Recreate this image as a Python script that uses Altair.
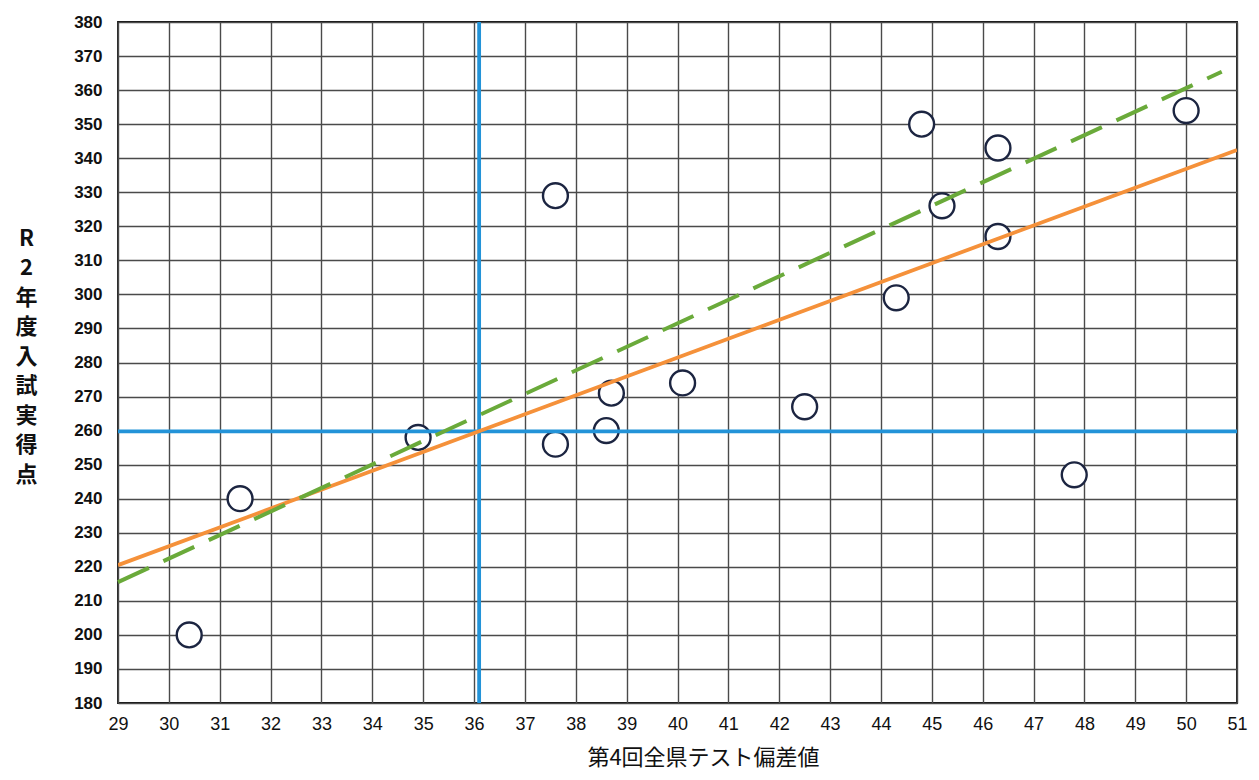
import altair as alt
import pandas as pd

# scatter points (x: 第4回全県テスト偏差値, y: R2年度入試実得点)
pt_x = [30.4, 31.4, 34.9, 37.6, 37.6, 38.6, 38.7, 40.1, 42.5, 44.3, 44.8, 45.2, 46.3, 46.3, 47.8, 50.0]
pt_y = [200.0, 240.0, 258.0, 329.0, 256.0, 260.0, 271.0, 274.0, 267.0, 299.0, 350.0, 326.0, 343.0, 317.0, 247.0, 354.0]

# trend lines
orange_x = [29, 51]
orange_y = [220.5, 342.4]
green_x = [29, 50.7]
green_y = [215.5, 365.4]

# blue reference lines
blue_v_x = 36.1
blue_h_y = 259.8

x_ticks = list(range(29, 52))
y_ticks = list(range(180, 381, 10))

X_DOM = [29, 51]
Y_DOM = [180, 380]

pts = pd.DataFrame({"x": pt_x, "y": pt_y})
orange = pd.DataFrame({"x": orange_x, "y": orange_y})
green = pd.DataFrame({"x": green_x, "y": green_y})
bv = pd.DataFrame({"x": [blue_v_x, blue_v_x], "y": [Y_DOM[0], Y_DOM[1]]})
bh = pd.DataFrame({"x": [X_DOM[0], X_DOM[1]], "y": [blue_h_y, blue_h_y]})

xs = alt.Scale(domain=X_DOM, nice=False, zero=False)
ys = alt.Scale(domain=Y_DOM, nice=False, zero=False)

x_axis = alt.Axis(
    values=x_ticks, tickCount=len(x_ticks), ticks=False, grid=True,
    labelOverlap=False, labelFlush=False, labelAngle=0,
    title="第4回全県テスト偏差値", titleX=585, domain=False,
)
y_axis = alt.Axis(
    values=y_ticks, tickCount=len(y_ticks), ticks=False, grid=True,
    labelOverlap=False, labelFlush=False,
    title=list("R2年度入試実得点"), titleAngle=0, titleAlign="center",
    titleBaseline="middle", titleX=-92, titleY=216, titleLineHeight=29.5,
    domain=False,
)

X_ENC = alt.X("x:Q", scale=xs, axis=x_axis)
Y_ENC = alt.Y("y:Q", scale=ys, axis=y_axis)

base_pts = alt.Chart(pts).mark_point(
    shape="circle", size=620, filled=False, fill="white", fillOpacity=1,
    stroke="#1c2541", strokeWidth=2.4, opacity=1,
).encode(x=X_ENC, y=Y_ENC)

orange_line = alt.Chart(orange).mark_line(color="#f5913a", strokeWidth=3.8, clip=True).encode(x=X_ENC, y=Y_ENC)
green_line = alt.Chart(green).mark_line(color="#6aaa3a", strokeWidth=4.0, strokeDash=[34, 16]).encode(x=X_ENC, y=Y_ENC)
blue_v = alt.Chart(bv).mark_line(color="#2393d8", strokeWidth=3.8).encode(x=X_ENC, y=Y_ENC)
blue_h = alt.Chart(bh).mark_line(color="#2393d8", strokeWidth=3.8).encode(x=X_ENC, y=Y_ENC)

chart = alt.layer(base_pts, blue_h, blue_v, orange_line, green_line).properties(
    width=1119, height=681,
    background="white",
    autosize=alt.AutoSizeParams(type="none"),
    padding={"left": 110, "top": 14, "right": 14, "bottom": 70},
).configure_view(
    stroke="#111", strokeWidth=1.8
).configure_axis(
    gridColor="#4a4a4a", gridWidth=1.4, gridOpacity=1, labelColor="#111", titleColor="#111",
).configure_axisX(
    labelFont="Liberation Sans", labelFontSize=18, labelPadding=12,
    titleFont="Noto Sans CJK JP", titleFontSize=22, titleFontWeight="normal",
    titlePadding=14,
).configure_axisY(
    labelFont="Liberation Sans", labelFontSize=17, labelFontWeight="bold",
    labelPadding=16, titleFont="Noto Sans CJK JP", titleFontSize=22,
    titleFontWeight="bold",
)

chart.save("out.html", embed_options={"renderer": "svg", "actions": False})
